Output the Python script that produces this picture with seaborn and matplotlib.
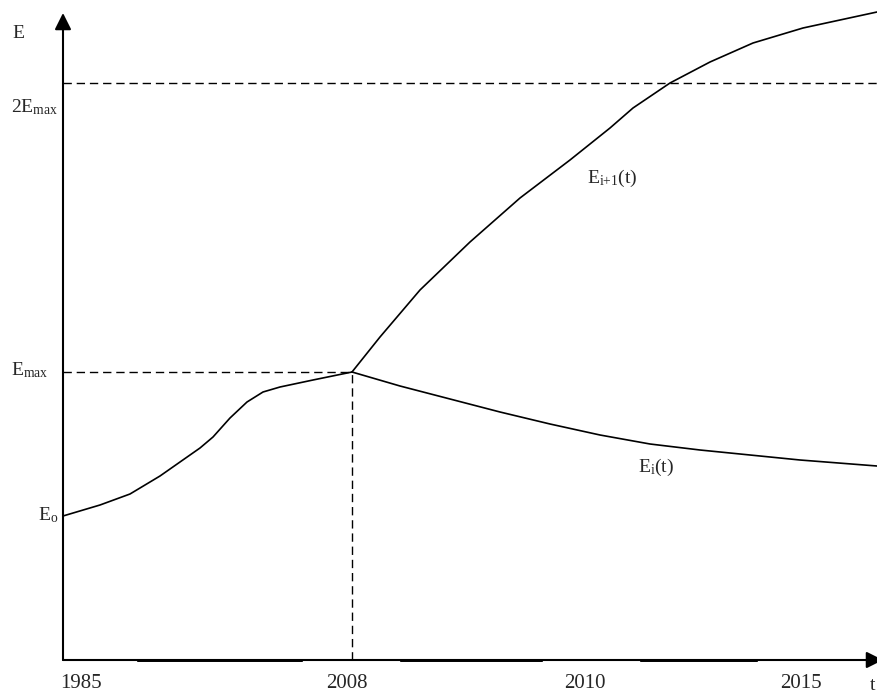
import matplotlib
matplotlib.use("Agg")
import matplotlib.pyplot as plt
import pandas as pd
import seaborn as sns

# schematic positions (t axis origin = 1985)
rise_t = [0, 37, 67, 97, 127, 137, 150, 167, 184, 200, 217, 250, 289]
rise_e = [144, 155, 166, 184, 205, 212, 223, 242, 258, 268, 273, 280, 288]

upper_t = [289, 317, 357, 407, 457, 507, 547, 570, 607, 647, 690, 740, 814]
upper_e = [288, 323, 370, 418, 462, 500, 532, 552, 577, 598, 617, 632, 648]

lower_t = [289, 337, 387, 437, 487, 537, 587, 637, 687, 737, 814]
lower_e = [288, 274, 261, 248, 236, 225, 216, 210, 205, 200, 194]

e_max = 288
e_2max = 577
t_2008 = 289

tick_pos = [18, 284, 522, 738]
tick_labels = ["1985", "2008", "2010", "2015"]

sns.set_style("white")
plt.rcParams["font.family"] = ["Liberation Serif", "DejaVu Serif"]
plt.rcParams["mathtext.fontset"] = "custom"
plt.rcParams["mathtext.rm"] = "Liberation Serif"

W, H = 877, 695
fig = plt.figure(figsize=(W / 100, H / 100), dpi=100)
ax = fig.add_axes([63 / W, 35 / H, 814 / W, 648 / H])
ax.set_xlim(0, 814)
ax.set_ylim(0, 648)

df = pd.concat([
    pd.DataFrame({"t": rise_t, "E": rise_e, "s": "rise"}),
    pd.DataFrame({"t": upper_t, "E": upper_e, "s": "upper"}),
    pd.DataFrame({"t": lower_t, "E": lower_e, "s": "lower"}),
])
sns.lineplot(data=df, x="t", y="E", units="s", estimator=None, sort=False,
             color="black", lw=1.2, ax=ax, clip_on=False)

dash = dict(color="black", lw=1.0, ls=(0, (6, 3.5)), clip_on=False)
ax.plot([0, t_2008], [e_max, e_max], **dash)
ax.plot([0, 814], [e_2max, e_2max], **dash)
ax.plot([t_2008, t_2008], [0, e_max], **dash)

# axes drawn as arrows
for s in ax.spines.values():
    s.set_visible(False)
arrow = dict(arrowstyle="-|>,head_length=1.0,head_width=0.5", color="black",
             lw=1.5, shrinkA=0, shrinkB=0)
ax.annotate("", xy=(0, 647), xytext=(0, 0), arrowprops=arrow,
            annotation_clip=False)
ax.annotate("", xy=(820, 0), xytext=(0, 0), arrowprops=arrow,
            annotation_clip=False)
for a, b in [(74, 239), (337, 479), (577, 694)]:
    ax.plot([a, b], [-1.2, -1.2], color="black", lw=0.7, clip_on=False)

ax.set_xticks(tick_pos)
ax.set_xticklabels(tick_labels, fontsize=15)
ax.set_yticks([])
ax.tick_params(axis="x", length=0, pad=10)
ax.set_xlabel("")
ax.set_ylabel("")

lab = dict(fontsize=14, va="center", clip_on=False)
ax.text(-51, 626, "E", ha="left", **lab)
ax.text(-52, 553, r"$\mathregular{2E_{max}}$", ha="left", **lab)
ax.text(-52, 290, r"$\mathregular{E_{max}}$", ha="left", **lab)
ax.text(-5, 145, r"$\mathregular{E_{o}}$", ha="right", **lab)
ax.text(524, 482, r"$\mathregular{E_{i{+}1}(t)}$", ha="left", **lab)
ax.text(575, 193, r"$\mathregular{E_{i}(t)}$", ha="left", **lab)
ax.text(807, -25, "t", ha="left", fontsize=14, va="center", clip_on=False)

fig.savefig("out.png", dpi=100)
